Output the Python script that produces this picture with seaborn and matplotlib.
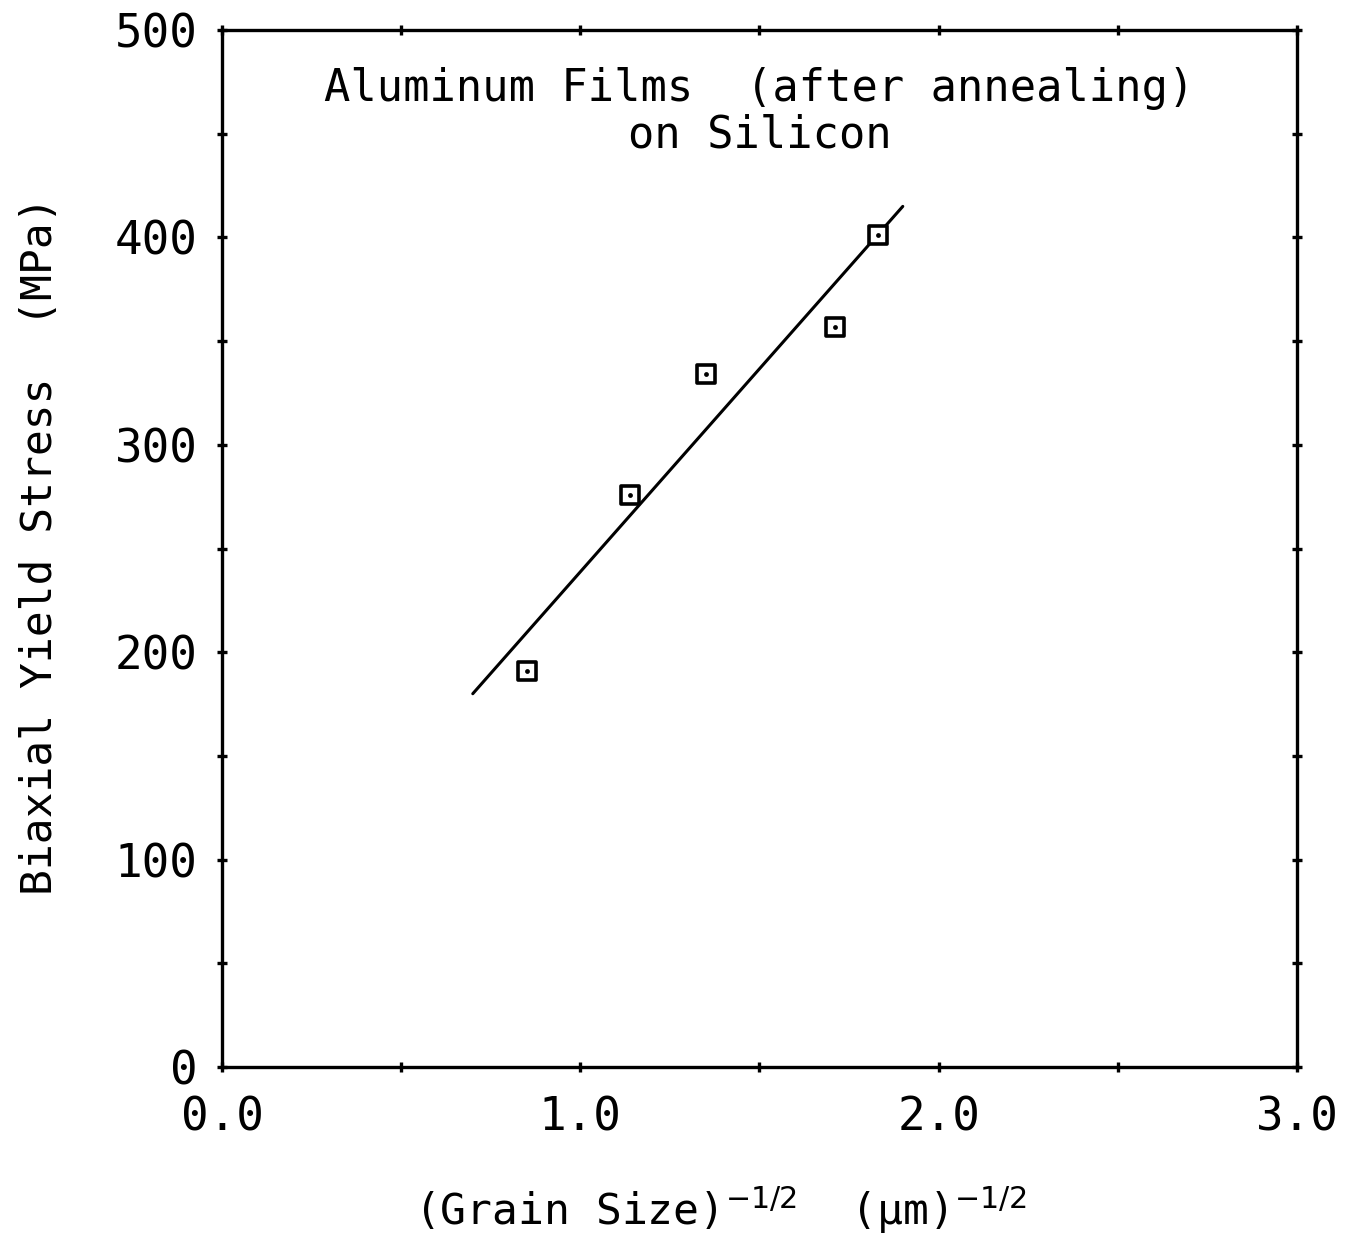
import numpy as np
import pandas as pd
import matplotlib
matplotlib.use("Agg")
import matplotlib.pyplot as plt
from matplotlib.ticker import MultipleLocator, FormatStrFormatter
import seaborn as sns

grain_x = [0.85, 1.14, 1.35, 1.71, 1.83]
stress_y = [191, 276, 334, 357, 401]

# Hall-Petch fit line endpoints
fit_x = [0.70, 1.90]
fit_y = [180, 415]

title_lines = ["Aluminum Films  (after annealing)", "on Silicon"]

sns.set_theme(style="white")
plt.rcParams['font.family'] = ['DejaVu Sans Mono', 'DejaVu Sans']
plt.rcParams['mathtext.fontset'] = 'dejavusans'
plt.rcParams['text.color'] = 'black'
plt.rcParams['axes.labelcolor'] = 'black'
plt.rcParams['xtick.color'] = 'black'
plt.rcParams['ytick.color'] = 'black'

fig = plt.figure(figsize=(13.5, 12.55), dpi=100)
ax = fig.add_axes([0.1644, 0.1498, 0.7963, 0.8262])

pts = pd.DataFrame({'x': grain_x, 'y': stress_y})
fit = pd.DataFrame({'x': fit_x, 'y': fit_y})

sns.lineplot(data=fit, x='x', y='y', ax=ax, color='black', linewidth=2.2)
sns.scatterplot(data=pts, x='x', y='y', ax=ax, marker='s', s=170,
                facecolor='white', edgecolor='black', linewidth=2.6, zorder=3)
sns.scatterplot(data=pts, x='x', y='y', ax=ax, marker='o', s=12,
                color='black', linewidth=0, zorder=4)

ax.set_xlim(0, 3)
ax.set_ylim(0, 500)
ax.xaxis.set_major_locator(MultipleLocator(1.0))
ax.xaxis.set_minor_locator(MultipleLocator(0.5))
ax.xaxis.set_major_formatter(FormatStrFormatter('%.1f'))
ax.yaxis.set_major_locator(MultipleLocator(100))
ax.yaxis.set_minor_locator(MultipleLocator(50))

for s in ax.spines.values():
    s.set_color('black')
    s.set_linewidth(2.4)

ax.tick_params(which='both', direction='inout', length=7, width=2.4, color='black',
               top=True, right=True, bottom=True, left=True)
ax.tick_params(axis='x', which='major', labelsize=33, pad=17, labelcolor='black')
ax.tick_params(axis='y', which='major', labelsize=33, pad=14, labelcolor='black')

ax.set_xlabel('(Grain Size)$^{-1/2}$  (μm)$^{-1/2}$', fontsize=31, va='center')
ax.set_ylabel('Biaxial Yield Stress  (MPa)', fontsize=31, va='center', ha='center')
ax.xaxis.set_label_coords(0.463, -0.138)
ax.yaxis.set_label_coords(-0.169, 0.503)

ax.text(0.5, 0.944, title_lines[0], transform=ax.transAxes, ha='center', va='center',
        fontsize=31.5, color='black')
ax.text(0.5, 0.899, title_lines[1], transform=ax.transAxes, ha='center', va='center',
        fontsize=31.5, color='black')

fig.savefig('out.png', dpi=100, facecolor='white')
